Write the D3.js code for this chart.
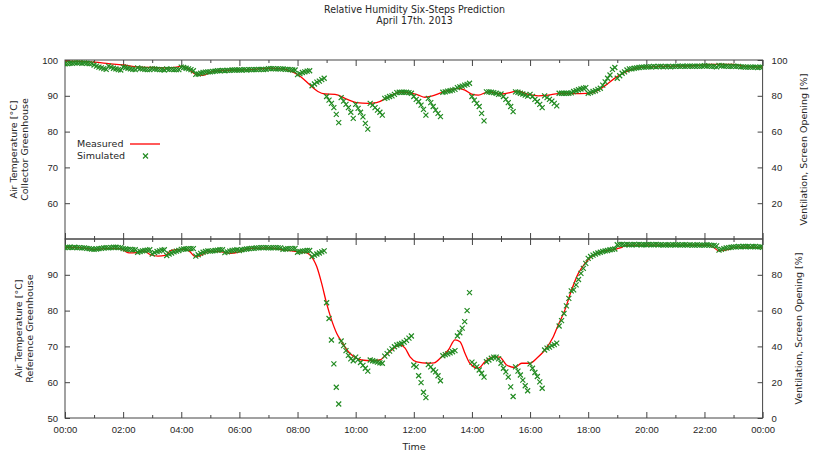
<!DOCTYPE html>
<html>
<head>
<meta charset="utf-8">
<script src="https://cdn.jsdelivr.net/npm/d3@7"></script>
<style>
  html, body { margin: 0; padding: 0; background: #fff; }
  svg { display: block; font-family: "DejaVu Sans", sans-serif; }
  .tick text { fill: #262626; font-size: 9.5px; }
  .tick line { stroke: #444; }
</style>
</head>
<body>
<svg id="chart" width="814" height="452"></svg>
<script>
// ---- Chart data ----------------------------------------------------------
const titleLines = ["Relative Humidity Six-Steps Prediction", "April 17th. 2013"];
const seriesNames = ["Measured", "Simulated"];
const panelLabels = [["Air Temperature [°C]", "Collector Greenhouse"],
                     ["Air Temperature [°C]", "Reference Greenhouse"]];
const rightLabel = "Ventilation, Screen Opening [%]";
const xLabel = "Time";

const xTickHours = [0, 2, 4, 6, 8, 10, 12, 14, 16, 18, 20, 22, 24];
const xTickLabels = ["00:00", "02:00", "04:00", "06:00", "08:00", "10:00", "12:00",
                     "14:00", "16:00", "18:00", "20:00", "22:00", "00:00"];
const xMinorHours = [1, 3, 5, 7, 9, 11, 13, 15, 17, 19, 21, 23];
const yTicksTop = [60, 70, 80, 90, 100];
const y2TicksTop = [20, 40, 60, 80, 100];
const yTicksBottom = [50, 60, 70, 80, 90];
const y2TicksBottom = [0, 20, 40, 60, 80];

// Measured humidity, collector greenhouse (hour, value)
const measuredTopHours = [0, 0.5, 1, 1.5, 2, 2.5, 3, 3.5, 3.85, 4, 4.2, 4.5, 4.75, 5, 5.3, 6, 6.5, 7,
  7.4, 7.85, 8.1, 8.43, 8.7, 8.94, 9.29, 9.69, 10.03, 10.43, 10.72, 11.12, 11.52, 11.8, 12.15,
  12.38, 12.61, 12.96, 13.53, 13.76, 13.99, 14.22, 14.56, 15.02, 15.59, 15.94, 16.28, 16.63,
  16.97, 17.4, 17.72, 18.17, 18.52, 18.98, 19.44, 19.89, 20.47, 21.6, 22.2, 23.0, 23.3, 24];
const measuredTop = [99.6, 99.6, 99.4, 99.0, 98.6, 98.1, 97.9, 97.8, 98.0, 98.3, 97.8, 96.0, 95.7,
  96.6, 97.0, 97.2, 97.4, 97.7, 97.6, 96.6, 95.4, 93.0, 91.2, 90.5, 90.4, 89.1, 88.1, 87.9, 88.1,
  89.6, 91.0, 90.9, 90.2, 89.6, 89.9, 90.9, 92.1, 91.6, 90.5, 90.2, 91.1, 90.5, 91.3, 90.4, 90.0,
  90.2, 90.6, 90.6, 90.6, 90.9, 92.5, 95.3, 97.2, 98.0, 98.2, 98.4, 98.8, 98.8, 98.3, 98.0];

// Measured humidity, reference greenhouse (hour, value)
const measuredBottomHours = [0, 0.5, 1, 1.5, 1.9, 2.2, 2.45, 2.7, 2.95, 3.2, 3.45, 3.65, 4, 4.2,
  4.5, 4.65, 5, 5.4, 5.7, 5.95, 6.3, 7, 7.5, 7.8, 8.1, 8.3, 8.43, 8.66, 8.83, 9, 9.17, 9.35, 9.52,
  9.75, 9.98, 10.2, 10.55, 10.84, 11, 11.24, 11.52, 11.7, 11.87, 12.1, 12.5, 12.7, 12.96, 13.19,
  13.42, 13.59, 13.76, 13.93, 14.22, 14.45, 14.73, 14.96, 15.19, 15.48, 15.71, 16, 16.23, 16.51,
  16.8, 16.97, 17.2, 17.43, 17.66, 17.89, 18.12, 18.46, 18.92, 19.1, 19.3, 20, 21, 22.2, 22.5,
  22.8, 23.1, 24];
const measuredBottom = [97.7, 97.6, 97.1, 97.4, 97.3, 96.1, 96.2, 96.7, 95.6, 95.2, 95.4, 96.8,
  97.1, 97.0, 95.1, 95.4, 96.6, 96.4, 96.0, 96.3, 97.3, 97.5, 97.0, 96.7, 96.3, 96.2, 95.5, 92.3,
  87.6, 82.0, 77.4, 73.6, 71.3, 68.5, 66.9, 66.2, 66.0, 66.2, 67.3, 69.0, 70.4, 69.5, 67.1, 65.7,
  65.3, 65.4, 67.1, 69.0, 71.8, 71.3, 68.1, 65.3, 63.9, 65.7, 67.1, 67.0, 64.8, 64.1, 65.3, 65.3,
  66.7, 69.0, 72.7, 76.0, 80.2, 85.8, 90.4, 93.2, 95.1, 96.5, 97.1, 97.5, 98.2, 98.3, 98.3, 98.2,
  96.7, 97.0, 97.8, 97.5];

// Six-step-ahead predictions, one value every 5 minutes from 00:00 to 24:00
const stepMinutes = 5;
const simulatedTop = [
  98.9, 99.0, 99.1, 99.1, 99.2, 99.2, 99.2, 99.1, 99.2, 99.1, 99.0, 99.0,
  98.6, 98.3, 98.0, 97.8, 97.6, 97.4, 98.3, 98.0, 97.7, 97.5, 97.3, 97.2,
  98.1, 97.9, 97.7, 97.5, 97.4, 97.3, 97.8, 97.6, 97.5, 97.4, 97.3, 97.3,
  97.6, 97.5, 97.4, 97.3, 97.3, 97.2, 97.5, 97.4, 97.4, 97.3, 97.3, 97.3,
  98.0, 97.9, 97.7, 97.5, 97.3, 97.0, 96.0, 96.1, 96.3, 96.5, 96.6, 96.7,
  96.7, 96.8, 96.9, 97.0, 97.0, 97.1, 97.0, 97.1, 97.1, 97.2, 97.2, 97.2,
  97.2, 97.2, 97.3, 97.2, 97.3, 97.3, 97.3, 97.3, 97.4, 97.4, 97.3, 97.4,
  97.6, 97.6, 97.6, 97.5, 97.5, 97.5, 97.5, 97.4, 97.4, 97.3, 97.2, 97.2,
  95.9, 96.2, 96.5, 96.7, 96.9, 97.0, 92.8, 93.3, 93.8, 94.1, 94.5, 94.9,
  89.8, 88.8, 87.9, 86.7, 84.8, 82.5, 89.5, 88.5, 87.6, 86.7, 85.4, 83.7,
  87.6, 86.5, 85.4, 84.1, 82.3, 80.7, 87.9, 87.4, 86.7, 86.0, 85.4, 84.6,
  89.3, 89.5, 89.8, 90.0, 90.4, 90.9, 91.0, 91.0, 91.0, 91.0, 90.9, 90.7,
  89.8, 89.0, 88.4, 87.4, 86.2, 84.6, 89.3, 88.1, 87.0, 86.0, 85.1, 84.2,
  91.0, 91.1, 91.3, 91.4, 91.6, 91.8, 92.3, 92.5, 92.7, 93.0, 93.2, 93.5,
  89.8, 88.8, 87.9, 87.0, 85.1, 83.0, 91.1, 91.1, 91.0, 90.9, 90.7, 90.4,
  90.5, 89.8, 89.0, 88.1, 87.0, 85.6, 91.1, 91.0, 90.7, 90.5, 90.2, 89.9,
  90.4, 89.8, 89.0, 88.4, 87.6, 86.7, 90.0, 89.5, 89.0, 88.5, 87.9, 87.2,
  90.7, 90.7, 90.7, 90.7, 90.7, 90.8, 91.2, 91.4, 91.7, 91.9, 92.1, 92.3,
  90.7, 90.9, 91.2, 91.4, 91.8, 92.1, 93.0, 93.9, 94.9, 95.8, 97.4, 97.9,
  94.9, 95.6, 96.3, 96.7, 97.2, 97.5, 97.5, 97.7, 97.8, 97.9, 98.0, 98.0,
  98.1, 98.1, 98.1, 98.2, 98.1, 98.2, 98.2, 98.1, 98.2, 98.2, 98.1, 98.2,
  98.2, 98.3, 98.2, 98.3, 98.2, 98.3, 98.3, 98.2, 98.3, 98.3, 98.2, 98.3,
  98.4, 98.3, 98.3, 98.2, 98.2, 98.1, 98.5, 98.4, 98.3, 98.3, 98.2, 98.2,
  98.3, 98.2, 98.2, 98.1, 98.1, 98.0, 98.0, 98.0, 98.0, 98.0, 97.9, 98.0,
  98.0];
const simulatedBottom = [
  97.6, 97.7, 97.7, 97.6, 97.7, 97.6, 97.6, 97.5, 97.5, 97.4, 97.3, 97.2,
  97.1, 97.2, 97.3, 97.4, 97.5, 97.6, 97.5, 97.6, 97.7, 97.7, 97.6, 97.6,
  97.3, 97.2, 97.1, 97.1, 97.0, 97.0, 96.3, 96.5, 96.7, 96.8, 96.9, 97.0,
  95.8, 96.2, 96.5, 96.7, 96.9, 97.0, 95.4, 95.8, 96.1, 96.4, 96.6, 96.8,
  97.1, 97.2, 97.2, 97.3, 97.3, 97.3, 95.2, 95.6, 96.0, 96.3, 96.5, 96.7,
  96.6, 96.7, 96.8, 96.9, 97.0, 97.0, 96.2, 96.4, 96.6, 96.8, 96.9, 97.0,
  96.8, 97.0, 97.1, 97.2, 97.3, 97.4, 97.4, 97.5, 97.5, 97.6, 97.6, 97.6,
  97.5, 97.5, 97.6, 97.6, 97.5, 97.5, 97.1, 97.2, 97.3, 97.3, 97.3, 97.4,
  96.3, 96.5, 96.6, 96.7, 96.8, 96.8, 95.1, 95.5, 95.8, 96.1, 96.4, 96.7,
  82.2, 77.8, 71.8, 65.1, 58.6, 53.9, 71.5, 70.2, 68.8, 67.5, 66.5, 66.0,
  67.0, 66.3, 65.5, 64.7, 63.9, 63.1, 66.2, 66.0, 65.8, 65.6, 65.4, 65.3,
  67.3, 68.0, 68.7, 69.3, 69.9, 70.4, 70.6, 70.8, 71.2, 71.7, 72.3, 72.9,
  64.8, 64.3, 61.8, 59.9, 57.2, 55.7, 64.9, 64.3, 63.4, 62.9, 61.8, 60.4,
  67.4, 67.7, 67.9, 68.2, 68.5, 68.8, 72.9, 73.8, 75.1, 76.9, 80.0, 85.0,
  65.6, 65.0, 64.3, 63.4, 62.5, 61.4, 65.7, 66.2, 66.7, 67.0, 67.0, 66.5,
  65.3, 63.9, 62.9, 61.4, 58.7, 56.0, 64.3, 63.1, 62.0, 60.6, 59.0, 57.6,
  65.1, 63.9, 62.7, 61.6, 60.1, 58.3, 69.0, 69.5, 69.8, 70.2, 70.5, 70.9,
  75.7, 77.2, 79.2, 81.3, 83.4, 85.5, 85.8, 87.2, 88.7, 90.4, 91.8, 93.2,
  94.6, 95.1, 95.5, 95.8, 96.1, 96.3, 96.5, 96.7, 96.8, 97.0, 97.1, 97.2,
  98.4, 98.5, 98.5, 98.4, 98.5, 98.4, 98.4, 98.5, 98.4, 98.5, 98.4, 98.4,
  98.4, 98.5, 98.4, 98.4, 98.5, 98.4, 98.4, 98.3, 98.4, 98.4, 98.3, 98.4,
  98.4, 98.4, 98.3, 98.4, 98.4, 98.3, 98.4, 98.3, 98.3, 98.4, 98.3, 98.3,
  98.3, 98.4, 98.3, 98.2, 98.2, 98.1, 96.9, 97.1, 97.3, 97.5, 97.6, 97.7,
  97.8, 97.8, 97.9, 97.8, 97.9, 97.9, 97.9, 97.8, 97.9, 97.9, 97.8, 97.8,
  97.7];

// ---- Drawing -------------------------------------------------------------
const svg = d3.select("#chart");
const textColor = "#262626";
const lineColor = "#ff0000";
const pointColor = "#228b22";

const x = d3.scaleLinear().domain([0, 24]).range([65, 762.6]);

const panels = [
  { top: 60, bottom: 239, yTicks: yTicksTop, y2Ticks: y2TicksTop,
    mHours: measuredTopHours, mVals: measuredTop, sim: simulatedTop,
    labels: panelLabels[0], labelX: [13.5, 24.5], rightX: 804, xLabels: false, legend: true },
  { top: 239, bottom: 418, yTicks: yTicksBottom, y2Ticks: y2TicksBottom,
    mHours: measuredBottomHours, mVals: measuredBottom, sim: simulatedBottom,
    labels: panelLabels[1], labelX: [19, 29.5], rightX: 799, xLabels: true, legend: false }
];

const cross = "M-2.5,-2.5L2.5,2.5M-2.5,2.5L2.5,-2.5";

panels.forEach((p, pi) => {
  const y = d3.scaleLinear().domain([50, 100]).range([p.bottom, p.top]);
  const y2 = d3.scaleLinear().domain([0, 100]).range([p.bottom, p.top]);
  const g = svg.append("g");

  const clipId = "clip" + pi;
  svg.append("clipPath").attr("id", clipId).append("rect")
    .attr("x", x.range()[0]).attr("y", p.top)
    .attr("width", x.range()[1] - x.range()[0]).attr("height", p.bottom - p.top);

  // bottom axis (labels only on the lower panel)
  const xb = d3.axisBottom(x).tickValues(xTickHours).tickSize(-6).tickPadding(8)
    .tickFormat((d, i) => p.xLabels ? xTickLabels[i] : "");
  g.append("g").attr("transform", `translate(0,${p.bottom})`).call(xb)
    .call(a => a.select(".domain").remove());
  g.append("g").attr("transform", `translate(0,${p.bottom})`)
    .call(d3.axisBottom(x).tickValues(xMinorHours).tickSize(-3).tickFormat(""))
    .call(a => a.select(".domain").remove());
  // mirrored top ticks
  g.append("g").attr("transform", `translate(0,${p.top})`)
    .call(d3.axisTop(x).tickValues(xTickHours).tickSize(-6).tickFormat(""))
    .call(a => a.select(".domain").remove());
  g.append("g").attr("transform", `translate(0,${p.top})`)
    .call(d3.axisTop(x).tickValues(xMinorHours).tickSize(-3).tickFormat(""))
    .call(a => a.select(".domain").remove());

  // left and right value axes
  g.append("g").attr("transform", `translate(${x.range()[0]},0)`)
    .call(d3.axisLeft(y).tickValues(p.yTicks).tickSize(-5).tickPadding(7))
    .call(a => a.select(".domain").remove());
  g.append("g").attr("transform", `translate(${x.range()[1]},0)`)
    .call(d3.axisRight(y2).tickValues(p.y2Ticks).tickSize(-5).tickPadding(9))
    .call(a => a.select(".domain").remove());

  // panel frame
  g.append("rect")
    .attr("x", x.range()[0]).attr("y", p.top)
    .attr("width", x.range()[1] - x.range()[0]).attr("height", p.bottom - p.top)
    .attr("fill", "none").attr("stroke", "#444").attr("stroke-width", 1);

  // measured line
  const mData = p.mHours.map((h, i) => ({ h, v: p.mVals[i] }));
  g.append("path").datum(mData)
    .attr("clip-path", `url(#${clipId})`)
    .attr("fill", "none").attr("stroke", lineColor).attr("stroke-width", 1.3)
    .attr("d", d3.line().x(d => x(d.h)).y(d => y(d.v)).curve(d3.curveMonotoneX));

  // simulated points
  g.append("g").attr("clip-path", `url(#${clipId})`)
    .selectAll("path").data(p.sim).join("path")
    .attr("transform", (v, i) => `translate(${x(i * stepMinutes / 60)},${y(v)})`)
    .attr("d", cross).attr("fill", "none")
    .attr("stroke", pointColor).attr("stroke-width", 1.2);

  // axis titles
  const cy = (p.top + p.bottom) / 2;
  p.labels.forEach((txt, li) => {
    svg.append("text")
      .attr("transform", `translate(${p.labelX[li]},${cy}) rotate(-90)`)
      .attr("text-anchor", "middle").attr("dy", "0.35em")
      .attr("font-size", "9.5px").attr("fill", textColor).text(txt);
  });
  svg.append("text")
    .attr("transform", `translate(${p.rightX},${cy}) rotate(-90)`)
    .attr("text-anchor", "middle").attr("dy", "0.35em")
    .attr("font-size", "9.5px").attr("fill", textColor).text(rightLabel);

  if (p.legend) {
    const lg = svg.append("g").attr("font-size", "9.5px").attr("fill", textColor);
    lg.append("text").attr("x", 77).attr("y", 144).attr("dy", "0.35em").text(seriesNames[0]);
    lg.append("text").attr("x", 77).attr("y", 156).attr("dy", "0.35em").text(seriesNames[1]);
    lg.append("line").attr("x1", 130).attr("x2", 160).attr("y1", 144).attr("y2", 144)
      .attr("stroke", lineColor).attr("stroke-width", 1.3);
    lg.append("path").attr("transform", "translate(145.5,156)").attr("d", cross)
      .attr("fill", "none").attr("stroke", pointColor).attr("stroke-width", 1.2);
  }
});

// x axis title
svg.append("text").attr("x", 414).attr("y", 446.5).attr("dy", "0.35em")
  .attr("text-anchor", "middle").attr("font-size", "9.5px").attr("fill", textColor).text(xLabel);

// chart title
titleLines.forEach((t, i) => {
  svg.append("text").attr("x", 414.5).attr("y", 9 + i * 11.5).attr("dy", "0.35em")
    .attr("text-anchor", "middle")
    .attr("font-family", "'DejaVu Sans Condensed', 'DejaVu Sans', sans-serif")
    .attr("font-size", "10.5px").attr("fill", textColor).text(t);
});
</script>
</body>
</html>
